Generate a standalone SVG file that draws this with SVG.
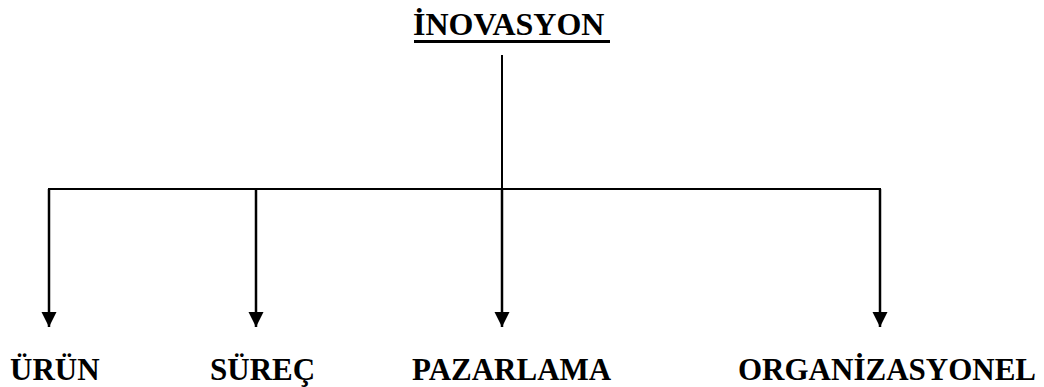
<svg xmlns="http://www.w3.org/2000/svg" width="1044" height="387" viewBox="0 0 1044 387">
<style>
.t{font-family:"Liberation Serif","Times New Roman",serif;font-weight:bold;font-size:31px;fill:#000}
.l{stroke:#000;stroke-width:2;fill:none}
.a{stroke:#000;stroke-width:2.5;fill:none}
</style>
<defs>
<marker id="ah" markerWidth="16" markerHeight="16" refX="15" refY="7.5" orient="auto" markerUnits="userSpaceOnUse" viewBox="0 0 16 16">
<path d="M0,0 L15,7.5 L0,15 Z" fill="#000"/>
</marker>
</defs>
<rect width="1044" height="387" fill="#fff"/>
<g id="connectors">
<line class="l" x1="502" y1="55" x2="502" y2="189"/>
<line class="l" x1="48" y1="189" x2="881" y2="189"/>
<line class="a" x1="49" y1="189" x2="49" y2="327" marker-end="url(#ah)"/>
<line class="a" x1="256" y1="189" x2="256" y2="327" marker-end="url(#ah)"/>
<line class="a" x1="502" y1="189" x2="502" y2="327" marker-end="url(#ah)"/>
<line class="a" x1="880" y1="189" x2="880" y2="327" marker-end="url(#ah)"/>
</g>
<g id="inovasyon">
<text class="t" x="413" y="35" style="font-size:32px">İNOVASYON</text>
<rect x="414" y="40" width="196" height="3" fill="#000"/>
</g>
<g id="urun"><text class="t" x="10" y="380">ÜRÜN</text></g>
<g id="surec"><text class="t" x="210" y="380">SÜREÇ</text></g>
<g id="pazarlama"><text class="t" x="412" y="380">PAZARLAMA</text></g>
<g id="organizasyonel"><text class="t" x="738" y="380">ORGANİZASYONEL</text></g>
</svg>
